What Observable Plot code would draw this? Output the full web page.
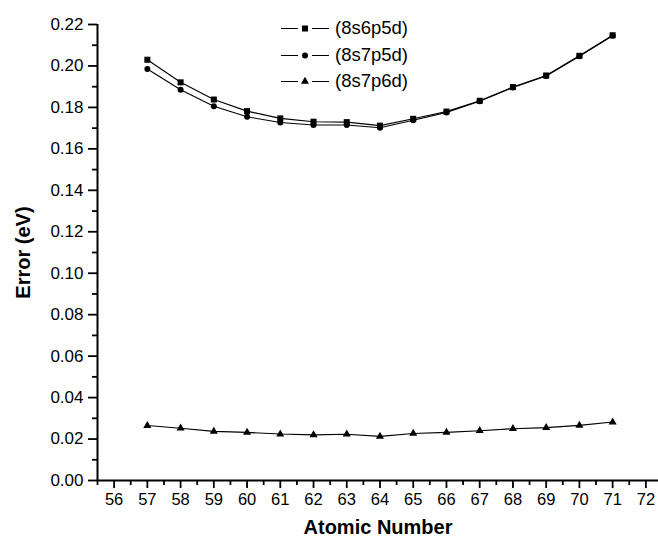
<!DOCTYPE html>
<html>
<head>
<meta charset="utf-8">
<script src="https://cdn.jsdelivr.net/npm/d3@7"></script>
<script src="https://cdn.jsdelivr.net/npm/@observablehq/plot@0.6"></script>
<style>
  html, body { margin: 0; padding: 0; background: #fff; }
  #wrap { position: relative; width: 658px; height: 544px; font-family: "Liberation Sans", Arial, sans-serif; }
  #wrap svg { font-family: "Liberation Sans", Arial, sans-serif; }
  g[aria-label="y-axis label"] text, g[aria-label="x-axis label"] text { font-weight: bold; font-size: 20px; }
  #legend { position: absolute; left: 280px; top: 15px; }
  .row { display: flex; align-items: center; height: 26.5px; }
  .row span { font-size: 18.5px; margin-left: 5px; color: #000; }
</style>
</head>
<body>
<div id="wrap"><div id="legend"></div></div>
<script>
const atomicNumbers = [57, 58, 59, 60, 61, 62, 63, 64, 65, 66, 67, 68, 69, 70, 71];
const err8s6p5d = [0.2030, 0.1921, 0.1838, 0.1782, 0.1747, 0.1731, 0.1729, 0.1712, 0.1745, 0.1780, 0.1832, 0.1898, 0.1954, 0.2049, 0.2148];
const err8s7p5d = [0.1985, 0.1885, 0.1806, 0.1755, 0.1727, 0.1715, 0.1715, 0.1702, 0.1738, 0.1776, 0.1830, 0.1896, 0.1952, 0.2047, 0.2146];
const err8s7p6d = [0.0265, 0.0252, 0.0237, 0.0232, 0.0224, 0.0220, 0.0223, 0.0213, 0.0227, 0.0232, 0.0240, 0.0250, 0.0255, 0.0266, 0.0282];
const seriesNames = ["(8s6p5d)", "(8s7p5d)", "(8s7p6d)"];
const seriesSymbols = ["square", "circle", "triangle"];
const seriesRadii = [3.4, 3.0, 3.0];
const xTickValues = [56, 57, 58, 59, 60, 61, 62, 63, 64, 65, 66, 67, 68, 69, 70, 71, 72];
const xMinorTicks = [55.5, 56.5, 57.5, 58.5, 59.5, 60.5, 61.5, 62.5, 63.5, 64.5, 65.5, 66.5, 67.5, 68.5, 69.5, 70.5, 71.5];
const yTickValues = [0, 0.02, 0.04, 0.06, 0.08, 0.10, 0.12, 0.14, 0.16, 0.18, 0.20, 0.22];
const yMinorTicks = [0.01, 0.03, 0.05, 0.07, 0.09, 0.11, 0.13, 0.15, 0.17, 0.19, 0.21];

const seriesValues = [err8s6p5d, err8s7p5d, err8s7p6d];
const data = seriesValues.flatMap((vals, i) =>
  atomicNumbers.map((z, j) => ({series: seriesNames[i], z, v: vals[j]})));

const marks = [
  Plot.axisX({ticks: xMinorTicks, tickSize: 5, tickFormat: () => "", strokeWidth: 1.8, label: null}),
  Plot.axisX({ticks: xTickValues, tickSize: 8, tickPadding: 5, tickFormat: d => String(d), strokeWidth: 1.8, fontSize: 16.5, label: "Atomic Number", labelArrow: "none", labelAnchor: "center", labelOffset: 53}),
  Plot.axisY({ticks: yMinorTicks, tickSize: 5, tickFormat: () => "", strokeWidth: 1.8, label: null}),
  Plot.axisY({ticks: yTickValues, tickSize: 9, tickPadding: 5, tickFormat: d => d.toFixed(2), strokeWidth: 1.8, fontSize: 17, label: "Error (eV)", labelArrow: "none", labelAnchor: "center", labelOffset: 82}),
  Plot.ruleY([0], {stroke: "#000", strokeWidth: 2}),
  Plot.ruleX([55.5], {y1: 0, y2: 0.22, stroke: "#000", strokeWidth: 2}),
];
seriesNames.forEach((name, i) => {
  const d = data.filter(p => p.series === name);
  marks.push(Plot.line(d, {x: "z", y: "v", stroke: "#000", strokeWidth: 1.1}));
  marks.push(Plot.dot(d, {x: "z", y: "v", symbol: seriesSymbols[i], r: seriesRadii[i], fill: "#000", stroke: "none"}));
});

const chart = Plot.plot({
  width: 658,
  height: 544,
  marginLeft: 97,
  marginRight: 0,
  marginTop: 24,
  marginBottom: 64,
  style: {background: "#fff", color: "#000"},
  x: {domain: [55.5, 72.38]},
  y: {domain: [0, 0.22]},
  marks
});
document.getElementById("wrap").prepend(chart);

// legend
const symbolTypes = {square: d3.symbolSquare, circle: d3.symbolCircle, triangle: d3.symbolTriangle};
const legend = document.getElementById("legend");
seriesNames.forEach((name, i) => {
  const row = document.createElement("div");
  row.className = "row";
  const sym = d3.symbol(symbolTypes[seriesSymbols[i]], Math.PI * seriesRadii[i] ** 2)();
  row.innerHTML = `<svg width="50" height="20"><line x1="1" x2="18" y1="10.5" y2="10.5" stroke="#000"/><line x1="32" x2="49" y1="10.5" y2="10.5" stroke="#000"/><path d="${sym}" transform="translate(25,10.5)" fill="#000"/></svg><span>${name}</span>`;
  legend.appendChild(row);
});
</script>
</body>
</html>
